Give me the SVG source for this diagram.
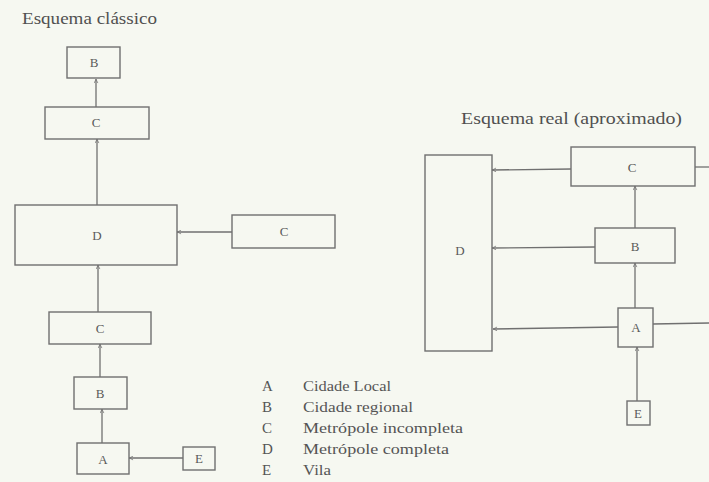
<svg xmlns="http://www.w3.org/2000/svg" width="709" height="482" viewBox="0 0 709 482">
<defs>
<style>
.bg{fill:#f6f8f1}
.box{fill:none;stroke:#707070;stroke-width:1.4}
.ln{fill:none;stroke:#707070;stroke-width:1.3}
.lbl{font-family:"Liberation Serif",serif;font-size:13px;fill:#5a5a5a;text-anchor:middle}
.title{font-family:"Liberation Serif",serif;font-size:17px;fill:#505050}
.leg{font-family:"Liberation Serif",serif;font-size:15px;fill:#555}
</style>
<marker id="ah" viewBox="0 0 8 8" refX="7.5" refY="4" markerWidth="5" markerHeight="5" orient="auto" markerUnits="userSpaceOnUse">
<path d="M1,1 L7,4 L1,7" fill="none" stroke="#707070" stroke-width="1.2"/>
</marker>
</defs>
<rect class="bg" x="0" y="0" width="709" height="482"/>
<text class="title" x="22" y="24" textLength="135" lengthAdjust="spacingAndGlyphs">Esquema clássico</text>
<text class="title" x="461" y="124" textLength="221" lengthAdjust="spacingAndGlyphs">Esquema real (aproximado)</text>

<g id="connectors">
<line class="ln" x1="96" y1="107" x2="96" y2="79" marker-end="url(#ah)"/>
<line class="ln" x1="97" y1="205" x2="97" y2="139" marker-end="url(#ah)"/>
<line class="ln" x1="232" y1="232" x2="177" y2="232" marker-end="url(#ah)"/>
<line class="ln" x1="98" y1="312" x2="98" y2="265" marker-end="url(#ah)"/>
<line class="ln" x1="100" y1="377" x2="100" y2="344" marker-end="url(#ah)"/>
<line class="ln" x1="102" y1="443" x2="102" y2="409" marker-end="url(#ah)"/>
<line class="ln" x1="183" y1="458" x2="129" y2="458" marker-end="url(#ah)"/>

<line class="ln" x1="571" y1="169" x2="492" y2="170" marker-end="url(#ah)"/>
<line class="ln" x1="695" y1="167" x2="709" y2="167"/>
<line class="ln" x1="635" y1="228" x2="635" y2="186" marker-end="url(#ah)"/>
<line class="ln" x1="595" y1="247" x2="492" y2="248" marker-end="url(#ah)"/>
<line class="ln" x1="635" y1="308" x2="635" y2="263" marker-end="url(#ah)"/>
<line class="ln" x1="618" y1="327" x2="493" y2="329" marker-end="url(#ah)"/>
<line class="ln" x1="653" y1="324" x2="709" y2="323"/>
<line class="ln" x1="637" y1="401" x2="637" y2="347" marker-end="url(#ah)"/>
</g>

<g id="cl-B"><rect class="box" x="67" y="47" width="53" height="31"/><text class="lbl" x="94" y="67">B</text></g>
<g id="cl-C1"><rect class="box" x="45" y="107" width="104" height="32"/><text class="lbl" x="96" y="127">C</text></g>
<g id="cl-D"><rect class="box" x="15" y="205" width="162" height="60"/><text class="lbl" x="97" y="240">D</text></g>
<g id="cl-C2"><rect class="box" x="232" y="215" width="103" height="33"/><text class="lbl" x="284" y="236">C</text></g>
<g id="cl-C3"><rect class="box" x="49" y="312" width="102" height="32"/><text class="lbl" x="100" y="333">C</text></g>
<g id="cl-B2"><rect class="box" x="74" y="377" width="53" height="32"/><text class="lbl" x="100" y="398">B</text></g>
<g id="cl-A"><rect class="box" x="77" y="443" width="52" height="31"/><text class="lbl" x="103" y="464">A</text></g>
<g id="cl-E"><rect class="box" x="183" y="447" width="32" height="23"/><text class="lbl" x="199" y="463">E</text></g>

<g id="re-D"><rect class="box" x="425" y="155" width="67" height="196"/><text class="lbl" x="460" y="255">D</text></g>
<g id="re-C"><rect class="box" x="571" y="147" width="124" height="39"/><text class="lbl" x="632" y="172">C</text></g>
<g id="re-B"><rect class="box" x="595" y="228" width="80" height="35"/><text class="lbl" x="635" y="251">B</text></g>
<g id="re-A"><rect class="box" x="618" y="308" width="35" height="39"/><text class="lbl" x="636" y="332">A</text></g>
<g id="re-E"><rect class="box" x="627" y="401" width="23" height="24"/><text class="lbl" x="638" y="418">E</text></g>

<g id="legend">
<text class="leg" x="262" y="391">A</text><text class="leg" x="303" y="391" textLength="88" lengthAdjust="spacingAndGlyphs">Cidade Local</text>
<text class="leg" x="262" y="412">B</text><text class="leg" x="303" y="412" textLength="110" lengthAdjust="spacingAndGlyphs">Cidade regional</text>
<text class="leg" x="262" y="433">C</text><text class="leg" x="303" y="433" textLength="160" lengthAdjust="spacingAndGlyphs">Metrópole incompleta</text>
<text class="leg" x="262" y="454">D</text><text class="leg" x="303" y="454" textLength="146" lengthAdjust="spacingAndGlyphs">Metrópole completa</text>
<text class="leg" x="262" y="475">E</text><text class="leg" x="303" y="475" textLength="28" lengthAdjust="spacingAndGlyphs">Vila</text>
</g>
</svg>
